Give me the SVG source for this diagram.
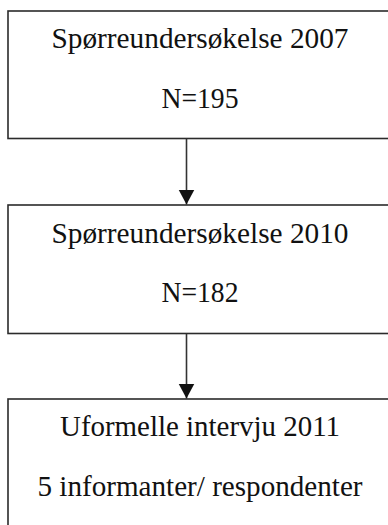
<svg xmlns="http://www.w3.org/2000/svg" width="388" height="525" viewBox="0 0 388 525">
<defs>
<style>
.box{fill:#fff;stroke:#2b2b2b;stroke-width:1.6}
.t{font-family:"Liberation Serif","Times New Roman",serif;font-size:29px;fill:#111;text-anchor:middle}
.c{stroke:#333;stroke-width:1.6;fill:none}
</style>
<marker id="ah" markerUnits="userSpaceOnUse" markerWidth="16" markerHeight="17" refX="15" refY="8" orient="auto">
<path d="M0,0 L15,8 L0,16 Z" fill="#111"/>
</marker>
</defs>
<rect width="388" height="525" fill="#fff"/>
<g id="node1">
<rect class="box" x="8" y="11" width="386" height="127.5"/>
<text class="t" x="200" y="48" textLength="297" lengthAdjust="spacingAndGlyphs">Spørreundersøkelse 2007</text>
<text class="t" x="200" y="108" textLength="77" lengthAdjust="spacingAndGlyphs">N=195</text>
</g>
<g id="node2">
<rect class="box" x="8" y="205" width="386" height="128.5"/>
<text class="t" x="200" y="243" textLength="297" lengthAdjust="spacingAndGlyphs">Spørreundersøkelse 2010</text>
<text class="t" x="200" y="302" textLength="77" lengthAdjust="spacingAndGlyphs">N=182</text>
</g>
<g id="node3">
<rect class="box" x="8" y="399" width="386" height="140"/>
<text class="t" x="200" y="436" textLength="280" lengthAdjust="spacingAndGlyphs">Uformelle intervju 2011</text>
<text class="t" x="200" y="496" textLength="325" lengthAdjust="spacingAndGlyphs">5 informanter/ respondenter</text>
</g>
<g id="connectors">
<line class="c" x1="186.5" y1="138.5" x2="186.5" y2="204.5" marker-end="url(#ah)"/>
<line class="c" x1="186.5" y1="333.5" x2="186.5" y2="398.5" marker-end="url(#ah)"/>
</g>
</svg>
